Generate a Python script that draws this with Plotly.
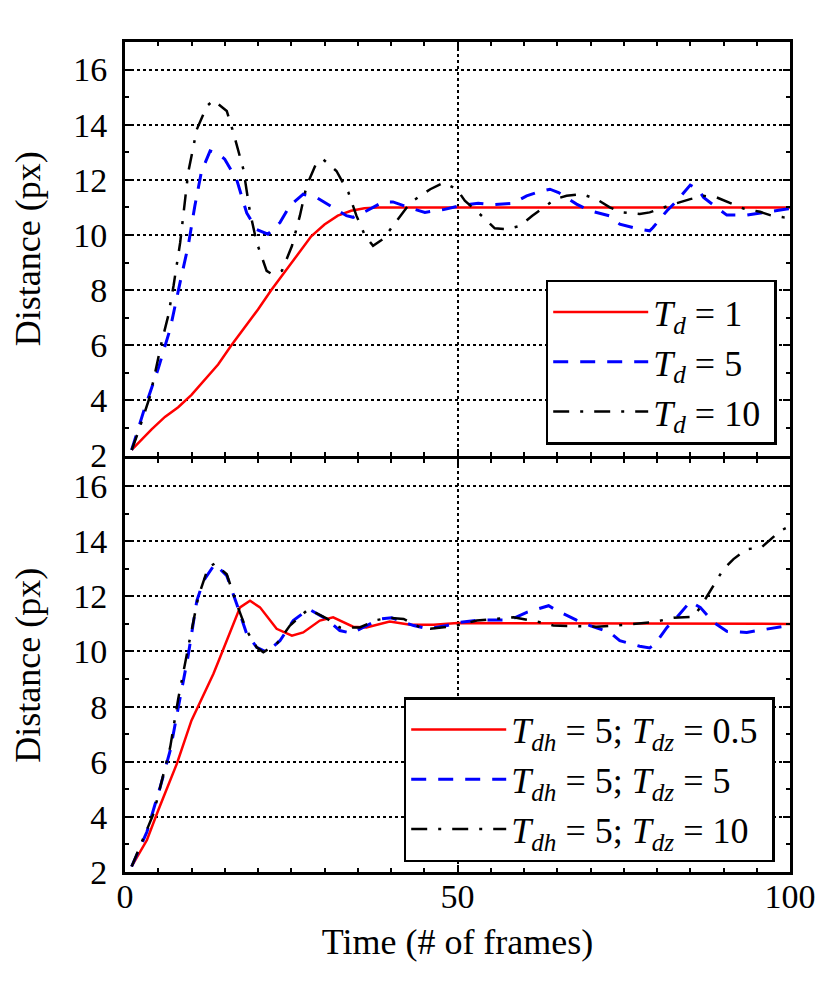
import plotly.graph_objects as go
from plotly.subplots import make_subplots

# top panel: T_d = 1, 5, 10
top_red_x = [1, 2, 4, 6, 8, 10, 12, 14, 16, 18, 20, 22, 24, 26, 28, 30, 32, 34, 36, 38, 100]
top_red_y = [2.2, 2.45, 2.95, 3.4, 3.75, 4.2, 4.75, 5.3, 6.0, 6.65, 7.3, 8.0, 8.65, 9.3, 9.95,
             10.38, 10.7, 10.88, 10.97, 11.0, 11.0]

top_blue_x = [1, 2.8, 5, 6.8, 8.3, 9.5, 10.5, 11.5, 12.8, 14, 15, 16.8, 18.3, 19.8, 21.5, 23.3,
              24.8, 26.8, 28.8, 30.8, 33.3, 34.3, 36.3, 38.8, 40.3, 43.4, 45.1, 47.9, 50.4, 53.1,
              55.4, 58.4, 60.4, 62, 63.9, 65.2, 67.9, 69.9, 72.9, 74.4, 77.4, 78.9, 79.4, 81.5,
              83, 85, 86.2, 87, 89, 90.5, 93.5, 96, 99.5, 100]
top_blue_y = [2.2, 3.6, 5.15, 6.6, 8.3, 9.6, 11.05, 12.3, 13.05, 12.95, 12.75, 12.0, 10.8, 10.2,
              10.03, 10.45, 11.06, 11.48, 11.36, 11.06, 10.7, 10.64, 10.87, 11.2, 11.2, 10.94,
              10.82, 10.92, 11.06, 11.15, 11.1, 11.15, 11.42, 11.55, 11.66, 11.54, 11.12, 10.88,
              10.69, 10.39, 10.21, 10.15, 10.27, 10.88, 11.24, 11.81, 11.66, 11.36, 11.0, 10.72,
              10.72, 10.82, 10.94, 10.95]

top_black_x = [1, 2, 3.8, 5.5, 6.5, 7.3, 8.3, 9.0, 9.5, 10.8, 12.3, 13.3, 15.3, 16.3, 17.8, 18.8,
               19.8, 21.3, 22.1, 23.6, 25.1, 26.3, 27.3, 28.8, 29.8, 31.8, 33.6, 34.8, 36.1, 37.3,
               38.8, 40.3, 42.9, 45.9, 47.9, 49.9, 51.1, 53.9, 55.6, 57.4, 59.4, 61.2, 64.7, 66.4,
               68.7, 70.9, 72.9, 74.7, 77.4, 78.9, 80.9, 82.5, 85, 87, 89, 91, 93, 95.5, 97, 99, 100]
top_black_y = [2.2, 2.86, 4.18, 6.1, 7.07, 8.16, 9.73, 11.18, 12.26, 13.83, 14.67, 14.89, 14.5,
               13.71, 12.38, 10.82, 9.73, 8.7, 8.58, 8.7, 9.6, 10.7, 11.78, 12.62, 12.74, 12.32,
               11.54, 10.7, 9.97, 9.61, 9.85, 10.33, 11.17, 11.66, 11.9, 11.66, 11.24, 10.64,
               10.24, 10.21, 10.33, 10.69, 11.3, 11.42, 11.48, 11.3, 11.0, 10.82, 10.76, 10.82,
               11.0, 11.12, 11.3, 11.42, 11.36, 11.15, 10.96, 10.84, 10.72, 10.64, 10.62]

# bottom panel: T_dh = 5 with T_dz = 0.5, 5, 10
bot_red_x = [1, 3.3, 5, 7.8, 10, 11.3, 13.3, 14.3, 15.8, 17.3, 18.8, 20.3, 22.8, 25.1, 26.8,
             29.3, 31.3, 34.3, 36.3, 39.8, 42.9, 46.4, 50, 100]
bot_red_y = [2.2, 3.16, 4.24, 5.93, 7.5, 8.16, 9.19, 9.79, 10.7, 11.6, 11.84, 11.6, 10.82, 10.57,
             10.69, 11.12, 11.24, 10.9, 10.87, 11.09, 10.97, 10.97, 11.03, 11.0]

bot_blue_x = [1, 3.3, 5.3, 6.8, 8.3, 9.5, 10.8, 11.8, 13.5, 15.3, 16.8, 18.3, 19.8, 21.3, 23.3,
              25.3, 27.6, 30.3, 32.3, 34.1, 35.8, 38.3, 40.1, 43.4, 45.6, 48.4, 50.4, 53.4, 57.9,
              60.4, 63.7, 65.2, 67.9, 69.9, 72.9, 74.4, 77.4, 78.9, 79.7, 81.5, 83, 85, 86.5,
              88.5, 90.5, 93.5, 95.7, 99.5, 100]
bot_blue_y = [2.2, 3.46, 5.09, 6.41, 8.34, 9.85, 11.84, 12.56, 13.17, 12.75, 11.72, 10.64, 10.15,
              9.97, 10.39, 11.12, 11.54, 11.18, 10.76, 10.66, 10.87, 11.18, 11.22, 10.94, 10.82,
              10.94, 11.06, 11.14, 11.14, 11.42, 11.66, 11.45, 11.14, 10.94, 10.69, 10.39, 10.19,
              10.13, 10.27, 10.87, 11.24, 11.81, 11.6, 11.06, 10.73, 10.69, 10.78, 10.94, 10.95]

bot_black_x = [1, 1.8, 4.3, 6.8, 8, 9.5, 11, 12.5, 13.5, 15.3, 16.8, 18.3, 19.8, 20.8, 22.8, 24.8,
               27.6, 30.3, 32.3, 35.3, 37.8, 39.8, 41.9, 44.4, 45.9, 49.9, 52.9, 58.4, 62.4, 64.4,
               70.9, 75.4, 79.4, 82.5, 85.5, 86.5, 88, 90, 91.5, 93.5, 95.7, 97, 98.5, 100]
bot_black_y = [2.2, 2.68, 4.12, 6.53, 8.28, 10.15, 11.96, 13.05, 13.19, 12.8, 11.72, 10.76, 10.15,
               9.97, 10.27, 10.94, 11.54, 11.2, 10.87, 10.87, 11.14, 11.22, 11.18, 10.87, 10.82,
               10.94, 11.12, 11.24, 11.06, 10.94, 10.9, 10.97, 11.06, 11.22, 11.26, 11.6, 12.2,
               12.99, 13.35, 13.71, 13.77, 14.04, 14.37, 14.55]

top_names = ["<i>T</i><sub><i>d</i></sub> = 1&nbsp;",
             "<i>T</i><sub><i>d</i></sub> = 5&nbsp;",
             "<i>T</i><sub><i>d</i></sub> = 10&nbsp;"]
bot_names = ["<i>T</i><sub><i>dh</i></sub> = 5; <i>T</i><sub><i>dz</i></sub> = 0.5&nbsp;",
             "<i>T</i><sub><i>dh</i></sub> = 5; <i>T</i><sub><i>dz</i></sub> = 5&nbsp;",
             "<i>T</i><sub><i>dh</i></sub> = 5; <i>T</i><sub><i>dz</i></sub> = 10&nbsp;"]

FONT = "Liberation Serif"
styles = [
    dict(color="#ff0000", width=2.5, dash="solid"),
    dict(color="#0000ff", width=3, dash="15px,12px"),
    dict(color="black", width=2.5, dash="16px,11px,3px,11px"),
]

fig = make_subplots(rows=2, cols=1, shared_xaxes=True, vertical_spacing=0)

top = [(top_red_x, top_red_y), (top_blue_x, top_blue_y), (top_black_x, top_black_y)]
bot = [(bot_red_x, bot_red_y), (bot_blue_x, bot_blue_y), (bot_black_x, bot_black_y)]

for (xs, ys), name, st in zip(top, top_names, styles):
    fig.add_trace(go.Scatter(x=xs, y=ys, mode="lines", name=name, line=st,
                             legend="legend"), row=1, col=1)
for (xs, ys), name, st in zip(bot, bot_names, styles):
    fig.add_trace(go.Scatter(x=xs, y=ys, mode="lines", name=name, line=st,
                             legend="legend2"), row=2, col=1)

axis_common = dict(
    showline=True, linecolor="black", linewidth=3, mirror="allticks",
    ticks="inside", ticklen=7, tickwidth=2, tickcolor="black",
    showgrid=True, gridcolor="black", gridwidth=1.5, griddash="dot",
    zeroline=False, tickfont=dict(family=FONT, size=34, color="black"),
)
title_font = dict(family=FONT, size=36, color="black")

fig.update_xaxes(range=[0, 100], tickvals=[0, 50, 100], ticklabelstandoff=-8,
                 minor=dict(dtick=5, tick0=0, ticks="inside", ticklen=4, tickcolor="black",
                            tickwidth=2, showgrid=False),
                 **axis_common)
fig.update_yaxes(range=[2, 17], tick0=2, dtick=2, ticklabelstandoff=8,
                 minor=dict(dtick=1, tick0=2, ticks="inside", ticklen=4, tickcolor="black",
                            tickwidth=2, showgrid=False),
                 title=dict(text="Distance (px)", font=title_font, standoff=22),
                 **axis_common)
fig.update_xaxes(title=dict(text="Time (# of frames)", font=title_font, standoff=16),
                 row=2, col=1)

# axis lines sit half outside the domain, so nudge the panels to share one line
half = 1.5 / 830
fig.update_yaxes(domain=[0.5 + half, 1], row=1, col=1)
fig.update_yaxes(domain=[0, 0.5 - half], row=2, col=1)

legend_common = dict(
    bgcolor="white", bordercolor="black", borderwidth=2.5,
    font=dict(family=FONT, size=36, color="black"),
    xanchor="right", yanchor="bottom", itemwidth=95, tracegroupgap=0,
)

fig.update_layout(
    width=830, height=1000,
    margin=dict(l=117, r=48, t=34, b=136),
    paper_bgcolor="white", plot_bgcolor="white",
    font=dict(family=FONT, size=34, color="black"),
    legend=dict(x=0.98, y=0.515, **legend_common),
    legend2=dict(x=0.977, y=0.012, **legend_common),
)

fig.write_html("out.html")
